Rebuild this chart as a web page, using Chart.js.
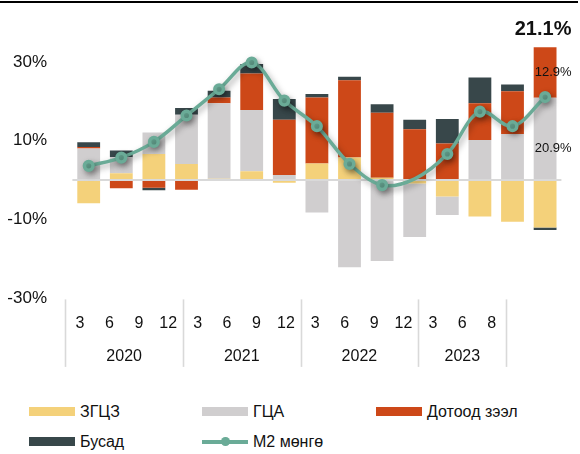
<!DOCTYPE html>
<html>
<head>
<meta charset="utf-8">
<script src="https://cdn.jsdelivr.net/npm/chart.js@4.4.0/dist/chart.umd.min.js"></script>
<style>
  html, body { margin: 0; padding: 0; background: #fff; }
  body { width: 580px; height: 454px; position: relative; overflow: hidden;
         font-family: "Liberation Sans", Arial, sans-serif; color: #111; }
  #topRule { position: absolute; left: 0; top: 1px; width: 578px; height: 2.4px; background: #000; }
  #wrap { position: absolute; left: 0; top: 0; width: 580px; height: 380px; }
  #legend { position: absolute; left: 29px; top: 396.5px; display: grid;
            grid-template-columns: 173px 174px auto; grid-auto-rows: 30px; font-size: 16px; }
  .lg { display: flex; align-items: center; }
  .sw { width: 46px; height: 9px; margin-right: 5px; flex: none; position: relative; }
  .sw.line i { position: absolute; left: 0; right: 0; top: 3px; height: 3.5px; background: currentColor; }
  .sw.line b { position: absolute; left: 19px; top: 0; width: 8.5px; height: 8.5px; border-radius: 50%; background: currentColor; }
</style>
</head>
<body>
<div id="topRule"></div>
<div id="wrap"><canvas id="chart" width="580" height="380"></canvas></div>
<div id="legend"></div>
<script>
/* Data (percent contributions) */
const categories = ['2020-3', '2020-6', '2020-9', '2020-12', '2021-3', '2021-6', '2021-9', '2021-12',
                    '2022-3', '2022-6', '2022-9', '2022-12', '2023-3', '2023-6', '2023-8'];
const monthLabels = ['3', '6', '9', '12', '3', '6', '9', '12', '3', '6', '9', '12', '3', '6', '8'];
const yearLabels = ['2020', '2021', '2022', '2023'];
const yearSpans = [4, 4, 4, 3];
const yTicks = [-30, -10, 10, 30];

const seriesNames = ['ЗГЦЗ', 'ГЦА', 'Дотоод зээл', 'Бусад', 'М2 мөнгө'];
const zgcz   = [-5.9, 1.7, 6.6, 4.1, 0.3, 2.2, -0.7, 4.2, 5.7, 0.6, -0.9, -4.2, -9.3, -10.6, -12.1];
const gca    = [8.0, 4.1, 5.5, 12.5, 19.2, 15.6, 1.3, -8.3, -22.2, -20.6, -13.6, -4.7, 10.2, 11.7, 20.9];
const dotood = [0.4, -2.1, -2.0, -2.5, 1.5, 9.3, 14.0, 16.8, 19.7, 16.5, 12.9, 9.3, 9.3, 10.9, 12.9];
const busad  = [1.2, 1.7, -0.6, 1.7, 1.7, 2.4, 5.3, 0.9, 0.9, 2.2, 2.4, 6.2, 6.6, 1.7, -0.6];
const m2     = [3.6, 5.7, 9.7, 16.4, 23.1, 29.9, 20.2, 13.7, 4.1, -1.3, 0.3, 6.6, 17.4, 13.7, 21.1];
const m2Marker = [1, 1, 1, 1, 1, 1, 1, 1, 1, 1, 0, 1, 1, 1, 1];

const lastLabels = ['20.9%', '12.9%'];
const m2LastLabel = '21.1%';

/* Style */
const COLORS = ['#f4d17a', '#d0cecf', '#cd4818', '#38474a', '#6aab97'];
const FONT = '"Liberation Sans", Arial, sans-serif';
Chart.defaults.font.family = FONT;
Chart.defaults.color = '#111';

// label axes are narrower than the bar slots in the original, so they run on their own linear scale
const LABEL_MIN = -0.26, LABEL_MAX = 16.37;

const yearCenters = [];
const yearEdges = [-0.5];
{
  let start = 0;
  yearSpans.forEach((n) => { yearCenters.push(start + (n - 1) / 2); start += n; yearEdges.push(start - 0.5); });
}

const noPad = (s) => { s.paddingTop = 0; s.paddingBottom = 0; s.paddingLeft = 0; s.paddingRight = 0; };

const decor = {
  id: 'decor',
  beforeDatasetDraw(chart, args) {
    if (args.index !== 4) return;
    const { ctx, chartArea } = chart;
    const y0 = chart.scales.y.getPixelForValue(0);
    ctx.save();
    ctx.strokeStyle = '#d9d9d9';
    ctx.lineWidth = 2;
    ctx.beginPath();
    ctx.moveTo(chartArea.left, y0);
    ctx.lineTo(chartArea.right, y0);
    ctx.stroke();
    ctx.restore();
    ctx.save();
    ctx.shadowColor = 'rgba(0,0,0,0.35)';
    ctx.shadowBlur = 6;
    ctx.shadowOffsetX = 2;
    ctx.shadowOffsetY = 3;
  },
  afterDatasetDraw(chart, args) {
    if (args.index === 4) chart.ctx.restore();
  },
  afterDraw(chart) {
    const { ctx, chartArea } = chart;
    const xm = chart.scales.xm;
    const yTop = chartArea.bottom + 1.5;
    const yBot = chartArea.bottom + 69;
    ctx.save();
    ctx.strokeStyle = '#d9d9d9';
    ctx.lineWidth = 1.6;
    yearEdges.forEach((v) => {
      const x = Math.round(xm.getPixelForValue(v)) + 0.5;
      ctx.beginPath();
      ctx.moveTo(x, yTop);
      ctx.lineTo(x, yBot);
      ctx.stroke();
    });

    // labels on the last bar
    const last = categories.length - 1;
    const g = chart.getDatasetMeta(1).data[last];
    const d = chart.getDatasetMeta(2).data[last];
    ctx.fillStyle = '#111';
    ctx.textAlign = 'center';
    ctx.textBaseline = 'middle';
    ctx.font = '13px ' + FONT;
    ctx.fillText(lastLabels[0], g.x + 8, (g.y + g.base) / 2 + 9);
    ctx.fillText(lastLabels[1], d.x + 8, (d.y + d.base) / 2);
    ctx.font = 'bold 20px ' + FONT;
    ctx.fillText(m2LastLabel, d.x - 2, d.y - 18);
    ctx.restore();
  }
};

const barSet = (i, data) => ({
  type: 'bar', label: seriesNames[i], data, backgroundColor: COLORS[i],
  stack: 'parts', order: 1, barPercentage: 0.7, categoryPercentage: 1.0
});

new Chart(document.getElementById('chart'), {
  data: {
    labels: categories,
    datasets: [
      barSet(0, zgcz),
      barSet(1, gca),
      barSet(2, dotood),
      barSet(3, busad),
      {
        type: 'line', label: seriesNames[4], data: m2, stack: 'm2', order: 0,
        borderColor: COLORS[4], backgroundColor: COLORS[4], borderWidth: 3.5,
        pointRadius: m2Marker.map((m) => (m ? 4.3 : 0)), pointHoverRadius: 5,
        tension: 0.35, fill: false
      }
    ]
  },
  options: {
    responsive: false,
    animation: false,
    layout: { padding: { top: 22.8, right: 18.6, left: 0, bottom: 0 } },
    plugins: { legend: { display: false }, tooltip: { enabled: false } },
    scales: {
      x: { type: 'category', stacked: true, display: false, weight: 0 },
      xm: {
        type: 'linear', position: 'bottom', weight: 1, min: LABEL_MIN, max: LABEL_MAX, offset: false,
        grid: { display: false }, border: { display: false },
        afterBuildTicks: (s) => { s.ticks = monthLabels.map((_, i) => ({ value: i })); },
        afterFit: (s) => { s.height = 34; noPad(s); },
        ticks: { autoSkip: false, maxRotation: 0, padding: 8.4, font: { size: 16 }, color: '#111',
                 callback: (v, i) => monthLabels[i] }
      },
      xy: {
        type: 'linear', position: 'bottom', weight: 2, min: LABEL_MIN, max: LABEL_MAX, offset: false,
        grid: { display: false }, border: { display: false },
        afterBuildTicks: (s) => { s.ticks = yearCenters.map((v) => ({ value: v })); },
        afterFit: (s) => { s.height = 48.1; noPad(s); },
        ticks: { autoSkip: false, maxRotation: 0, padding: 7, font: { size: 16 }, color: '#111',
                 callback: (v, i) => yearLabels[i] }
      },
      y: {
        stacked: true, min: -30, max: 40,
        grid: { display: false }, border: { display: false },
        afterBuildTicks: (s) => { s.ticks = yTicks.map((v) => ({ value: v })); },
        afterFit: (s) => { s.width = 72.4; noPad(s); },
        ticks: { padding: 17.4, font: { size: 17 }, color: '#111', callback: (v) => v + '%' }
      }
    }
  },
  plugins: [decor]
});

/* HTML legend built from the series names */
const legend = document.getElementById('legend');
seriesNames.forEach((name, i) => {
  const item = document.createElement('div');
  item.className = 'lg';
  const sw = document.createElement('span');
  if (i === 4) {
    sw.className = 'sw line';
    sw.style.color = COLORS[i];
    sw.innerHTML = '<i></i><b></b>';
  } else {
    sw.className = 'sw';
    sw.style.background = COLORS[i];
  }
  const tx = document.createElement('span');
  tx.textContent = name;
  item.appendChild(sw);
  item.appendChild(tx);
  legend.appendChild(item);
});
</script>
</body>
</html>
